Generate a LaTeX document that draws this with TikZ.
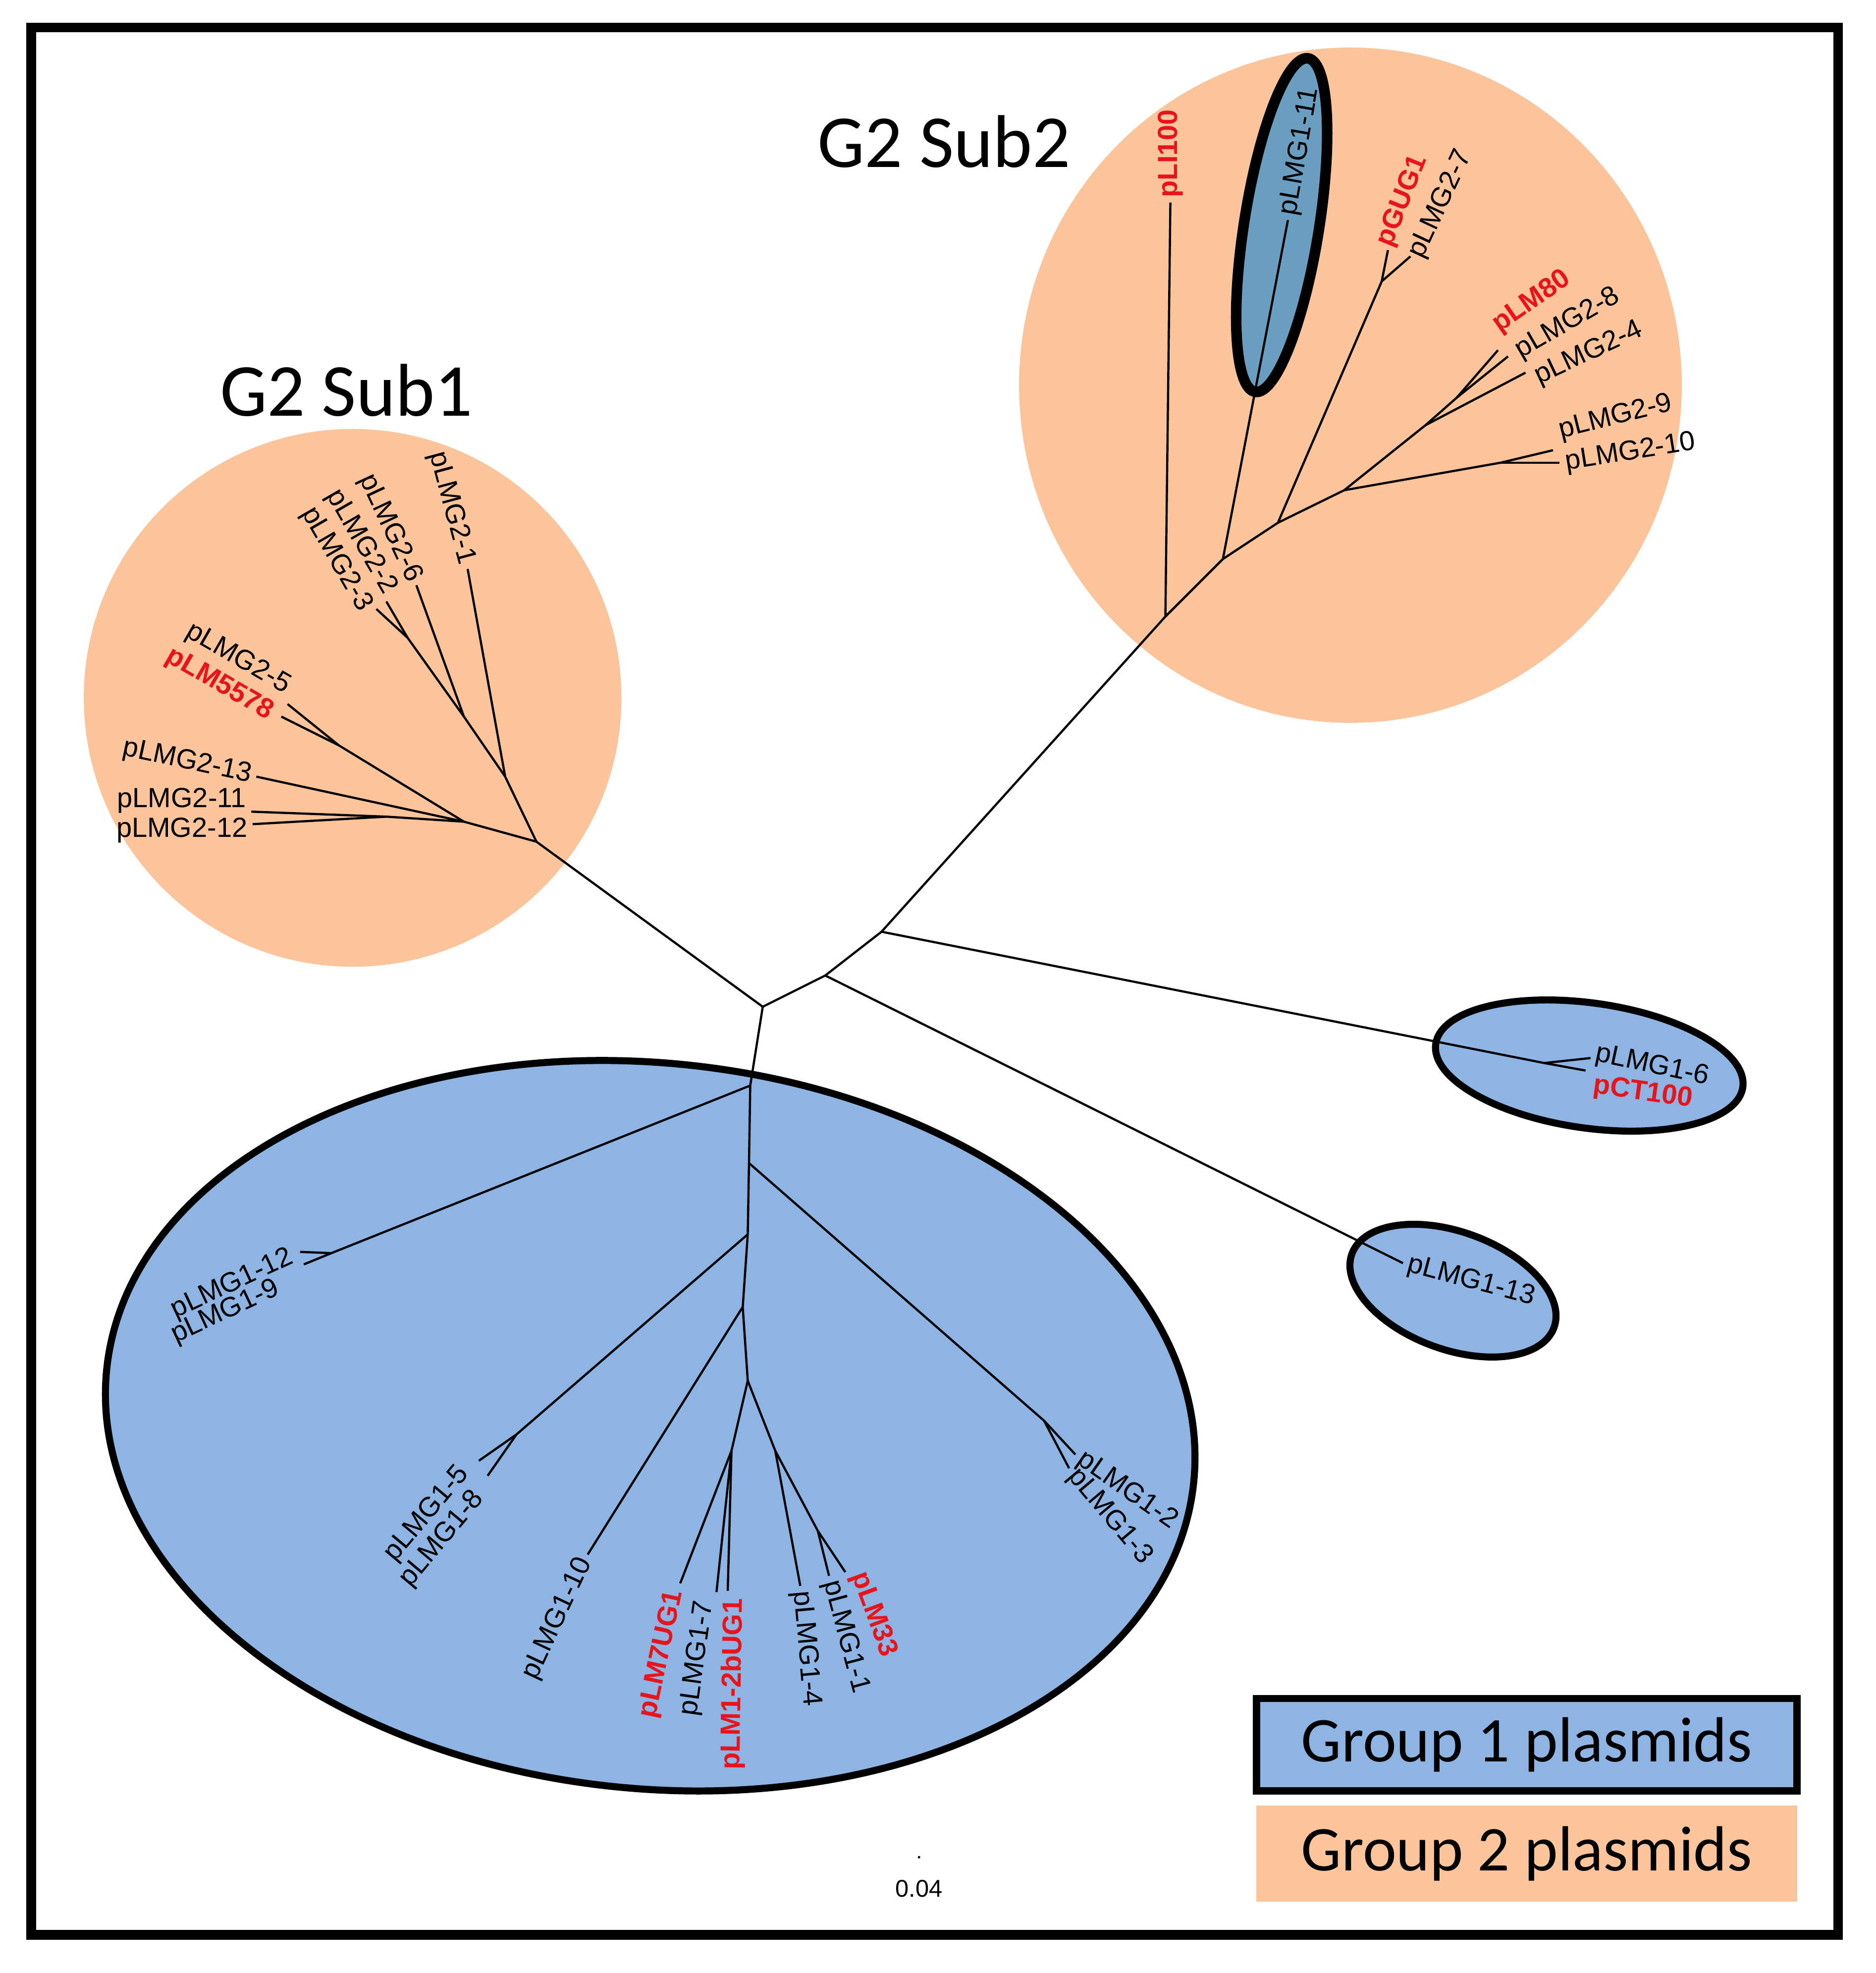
\documentclass[tikz,border=0pt]{standalone}
\usepackage{fontspec}
\setmainfont{Liberation Sans}
\newfontfamily\calib{Carlito}
\definecolor{orng}{HTML}{FBC49A}
\definecolor{blu}{HTML}{8DB4E2}
\definecolor{stl}{HTML}{6A9EC0}
\definecolor{rd}{HTML}{E8141C}
\begin{document}
\begin{tikzpicture}[x=0.01cm,y=-0.01cm,
 br/.style={line width=0.5pt,black},
 lb/.style={font=\fontsize{6.3}{7}\selectfont,inner sep=1pt},
 rl/.style={lb,text=rd,font=\fontsize{6.3}{7}\selectfont\bfseries},
 ttl/.style={font=\calib\fontsize{17}{19}\selectfont},
 leg/.style={font=\calib\fontsize{14.5}{16}\selectfont},
 grp/.style={line width=1.6pt,fill=blu}]
\useasboundingbox (0,0) rectangle (1500,1577.6);
% backgrounds
\fill[orng] (282,558) ellipse [x radius=215,y radius=215];
\fill[orng] (1080,308) ellipse [x radius=265,y radius=270];
\draw[grp,rotate around={-6:(520,1140)}] (520,1140) ellipse [x radius=437,y radius=290];
\draw[grp,rotate around={-8:(1271,852)}] (1271,852) ellipse [x radius=124,y radius=50];
\draw[grp,rotate around={-20:(1162,1032)}] (1162,1032) ellipse [x radius=86,y radius=47];
\draw[line width=2.4pt,fill=stl,rotate around={-9:(1025,180)}] (1025,180) ellipse [x radius=30,y radius=135];
% coordinates
\coordinate (R) at (610,805);
\coordinate (A) at (660,780);
\coordinate (B) at (705,745);
\coordinate (S1) at (429,673);
\coordinate (S2) at (932,493);
\coordinate (G1) at (600,868);
\coordinate (G1b) at (599,930);
\coordinate (J1) at (598,987);
\coordinate (J2) at (594,1045);
\coordinate (J3) at (598,1104);
% main backbone
\draw[br] (S1) -- (R) -- (A) -- (B) -- (S2);
\draw[br] (R) -- (G1);
% group 1-6 and 1-13
\coordinate (J6) at (1235,850);
\coordinate (t16) at (1272,846); \coordinate (tCT) at (1268,856);
\draw[br] (B) -- (J6) -- (t16); \draw[br] (J6) -- (tCT);
\coordinate (t113) at (1122,1010);
\draw[br] (A) -- (t113);
\node[lb,anchor=west,rotate=-12] (n16) at (1272,842) {pLMG1-6};
\node[rl,anchor=west,rotate=-8] (nCT) at (1270,868) {pCT100};
\node[lb,anchor=west,rotate=-15] (n113) at (t113) {pLMG1-13};
% sub2
\coordinate (N1) at (978,447);
\coordinate (N2) at (1022,418);
\coordinate (N3) at (1075,392);
\coordinate (tLI) at (936,162);
\coordinate (t111) at (1030,176);
\coordinate (jG) at (1105,225);
\coordinate (tGUG) at (1110,200); \coordinate (t27) at (1128,205);
\coordinate (jM) at (1140,340);
\coordinate (j24) at (1165,318);
\coordinate (t80) at (1198,280); \coordinate (t28) at (1206,285); \coordinate (t24) at (1220,298);
\coordinate (j9) at (1200,370);
\coordinate (t29) at (1242,360); \coordinate (t210) at (1247,370);
\draw[br] (S2) -- (tLI);
\draw[br] (S2) -- (N1) -- (t111);
\draw[br] (N1) -- (N2) -- (jG) -- (tGUG); \draw[br] (jG) -- (t27);
\draw[br] (N2) -- (N3) -- (jM) -- (j24) -- (t80); \draw[br] (j24) -- (t28); \draw[br] (jM) -- (t24);
\draw[br] (N3) -- (j9) -- (t29); \draw[br] (j9) -- (t210);
\node[rl,anchor=west,rotate=90] (nLI) at (tLI) {pLI100};
\node[lb,anchor=west,rotate=80] (n111) at (t111) {pLMG1-11};
\node[rl,anchor=west,rotate=68] (nGUG) at (1106,200) {pGUG1};
\node[lb,anchor=west,rotate=65] (n27) at (1131,209) {pLMG2-7};
\node[rl,anchor=west,rotate=35] (n80) at (1193,264) {pLM80};
\node[lb,anchor=west,rotate=30] (n28) at (1210,284) {pLMG2-8};
\node[lb,anchor=west,rotate=25] (n24) at (1225,304) {pLMG2-4};
\node[lb,anchor=west,rotate=14] (n29) at (1243,346) {pLMG2-9};
\node[lb,anchor=west,rotate=9] (n210) at (1248,371) {pLMG2-10};
% sub1
\coordinate (a1) at (404,621);
\coordinate (a2) at (371,573);
\coordinate (a3) at (326,510);
\coordinate (a4) at (371,657);
\coordinate (a5) at (271,596);
\coordinate (a6) at (309,653);
\coordinate (u1) at (374,455); \coordinate (u6) at (333,468);
\coordinate (u2) at (309,481); \coordinate (u3) at (301,487);
\coordinate (u13) at (205,621); \coordinate (u5) at (230,563); \coordinate (u78) at (225,573);
\coordinate (u11) at (201,649); \coordinate (u12) at (202,659);
\draw[br] (S1) -- (a1) -- (u1); \draw[br] (a1) -- (a2) -- (u6); \draw[br] (a2) -- (a3) -- (u2); \draw[br] (a3) -- (u3);
\draw[br] (S1) -- (a4) -- (u13); \draw[br] (a4) -- (a5) -- (u5); \draw[br] (a5) -- (u78);
\draw[br] (a4) -- (a6) -- (u11); \draw[br] (a6) -- (u12);
\node[lb,anchor=east,rotate=-75] (m1) at (u1) {pLMG2-1};
\node[lb,anchor=east,rotate=-65] (m6) at (u6) {pLMG2-6};
\node[lb,anchor=east,rotate=-60] (m2) at (314,477) {pLMG2-2};
\node[lb,anchor=east,rotate=-60] (m3) at (294,491) {pLMG2-3};
\node[lb,anchor=east,rotate=-30] (m5) at (234,552) {pLMG2-5};
\node[rl,anchor=east,rotate=-30] (m78) at (220,573) {pLM5578};
\node[lb,anchor=east,rotate=-12] (m13) at (u13) {pLMG2-13};
\node[lb,anchor=east] (m11) at (201,640) {pLMG2-11};
\node[lb,anchor=east] (m12) at (202,664) {pLMG2-12};
% group 1 big
\coordinate (b12) at (265,1002);
\coordinate (v12) at (240,1001); \coordinate (v9) at (243,1011);
\coordinate (b2) at (835,1136);
\coordinate (v2) at (860,1163); \coordinate (v3) at (855,1174);
\coordinate (b5) at (413,1147);
\coordinate (v5) at (383,1168); \coordinate (v8) at (390,1180);
\coordinate (v10) at (470,1243);
\coordinate (bL) at (585,1160); \coordinate (bR) at (620,1160); \coordinate (b11) at (654,1224);
\coordinate (v7U) at (544,1266); \coordinate (v17) at (573,1273); \coordinate (v2b) at (582,1272);
\coordinate (v14) at (640,1268); \coordinate (v11) at (663,1260); \coordinate (v33) at (676,1257);
\draw[br] (G1) -- (G1b) -- (J1) -- (J2) -- (J3);
\draw[br] (G1) -- (b12) -- (v12); \draw[br] (b12) -- (v9);
\draw[br] (G1b) -- (b2) -- (v2); \draw[br] (b2) -- (v3);
\draw[br] (J1) -- (b5) -- (v5); \draw[br] (b5) -- (v8);
\draw[br] (J2) -- (v10);
\draw[br] (J3) -- (bL) -- (v7U); \draw[br] (bL) -- (v17); \draw[br] (bL) -- (v2b);
\draw[br] (J3) -- (bR) -- (v14); \draw[br] (bR) -- (b11) -- (v11); \draw[br] (b11) -- (v33);
\node[lb,anchor=east,rotate=25] (w12) at (237,1003) {pLMG1-12};
\node[lb,anchor=east,rotate=25] (w9) at (226,1028) {pLMG1-9};
\node[lb,anchor=west,rotate=-35] (w2) at (v2) {pLMG1-2};
\node[lb,anchor=west,rotate=-50] (w3) at (v3) {pLMG1-3};
\node[lb,anchor=east,rotate=50] (w5) at (374,1172) {pLMG1-5};
\node[lb,anchor=east,rotate=50] (w8) at (386,1192) {pLMG1-8};
\node[lb,anchor=east,rotate=65] (w10) at (v10) {pLMG1-10};
\node[rl,anchor=east,rotate=78] (w7U) at (541,1268) {pLM7UG1};
\node[lb,anchor=east,rotate=82] (w17) at (565,1276) {pLMG1-7};
\node[rl,anchor=east,rotate=89] (w2b) at (588,1274) {pLM1-2bUG1};
\node[lb,anchor=west,rotate=-85] (w14) at (v14) {pLMG1-4};
\node[lb,anchor=west,rotate=-75] (w11) at (v11) {pLMG1-1};
\node[rl,anchor=west,rotate=-70] (w33) at (685,1254) {pLM33};
% titles
\node[ttl] (t1) at (277,312) {G2 Sub1};
\node[ttl] (t2) at (755,113) {G2 Sub2};
% legend
\node[draw,line width=1.6pt,fill=blu,minimum width=4.32cm,minimum height=0.74cm,leg] (L1) at (1221,1395) {Group 1 plasmids};
\node[fill=orng,minimum width=4.32cm,minimum height=0.77cm,leg] (L2) at (1221,1482) {Group 2 plasmids};
% scale
\fill (735,1485) circle (1);
\node[font=\fontsize{5.5}{6}\selectfont] (sc) at (735,1510) {0.04};
% frame
\draw[line width=2.2pt] (25,22) rectangle (1470,1547);
\end{tikzpicture}
\end{document}
